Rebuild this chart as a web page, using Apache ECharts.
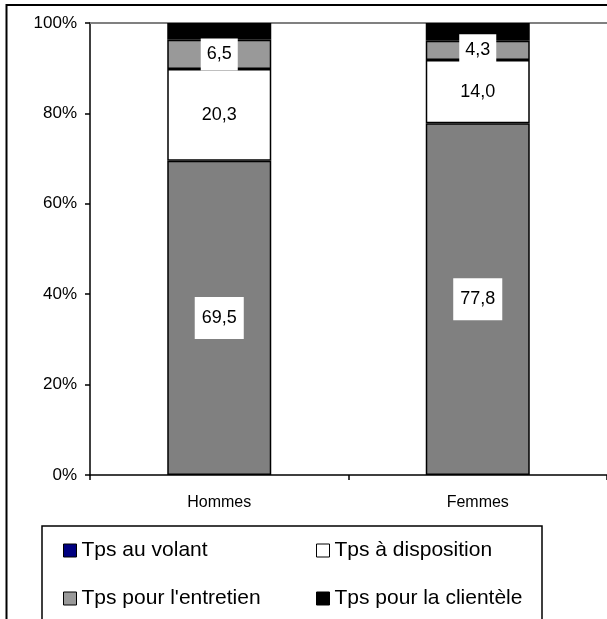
<!DOCTYPE html>
<html>
<head>
<meta charset="utf-8">
<script src="https://cdn.jsdelivr.net/npm/echarts@6/dist/echarts.min.js"></script>
<style>
  html, body { margin: 0; padding: 0; background: #fff; }
  #chart { width: 607px; height: 619px; }
</style>
</head>
<body>
<div id="chart"></div>
<script>
  // categories and values (percent of time)
  const categories = ['Hommes', 'Femmes']
  const volant = [69.5, 77.8]
  const disposition = [20.3, 14.0]
  const entretien = [6.5, 4.3]
  const clientele = [3.7, 3.9]
  const yTicks = [0, 20, 40, 60, 80, 100]

  const font = 'Arial, "Liberation Sans", sans-serif'
  const fmt = p => p.value.toFixed(1).replace('.', ',')

  const chart = echarts.init(document.getElementById('chart'))

  const barLabel = (pad) => ({
    show: true,
    position: 'inside',
    formatter: fmt,
    color: '#000',
    fontSize: 18,
    fontFamily: font,
    backgroundColor: '#fff',
    padding: pad
  })

  const legendBase = {
    orient: 'vertical',
    top: 540,
    padding: 0,
    itemWidth: 13,
    itemHeight: 13,
    itemGap: 27,
    icon: 'rect',
    itemStyle: { borderColor: '#000', borderWidth: 1 },
    textStyle: { fontSize: 21, fontFamily: font, color: '#000' }
  }

  chart.setOption({
    animation: false,
    backgroundColor: '#fff',
    graphic: [
      // outer frame
      {
        type: 'rect',
        shape: { x: 6.5, y: 5, width: 700, height: 700 },
        style: { fill: 'none', stroke: '#000', lineWidth: 2 },
        z: 0
      },
      // legend box
      {
        type: 'rect',
        shape: { x: 42, y: 526, width: 500, height: 200 },
        style: { fill: 'none', stroke: '#000', lineWidth: 1.5 },
        z: 0
      }
    ],
    grid: {
      left: 90,
      top: 23,
      right: -9,
      bottom: 144
    },
    legend: [Object.assign({}, legendBase, {
      left: 63,
      data: [
        { name: 'Tps au volant', itemStyle: { color: '#000080' } },
        "Tps pour l'entretien"
      ]
    }), Object.assign({}, legendBase, {
      left: 316,
      data: ['Tps à disposition', 'Tps pour la clientèle']
    })],
    xAxis: {
      type: 'category',
      data: categories,
      axisLine: { lineStyle: { color: '#000', width: 1.5 } },
      axisTick: { show: true, length: 5, lineStyle: { color: '#000', width: 1.5 } },
      axisLabel: { color: '#000', fontSize: 16, fontFamily: font, margin: 20 }
    },
    yAxis: {
      type: 'value',
      min: yTicks[0],
      max: yTicks[yTicks.length - 1],
      interval: 20,
      axisLine: { show: true, lineStyle: { color: '#000', width: 1.5 } },
      axisTick: { show: true, length: 5, lineStyle: { color: '#000', width: 1.5 } },
      axisLabel: { color: '#000', fontSize: 17, fontFamily: font, margin: 13, formatter: '{value}%' },
      splitLine: { show: false }
    },
    series: [{
      name: 'Tps au volant',
      type: 'bar',
      stack: 'total',
      barWidth: 104,
      data: volant,
      itemStyle: { color: '#808080', borderColor: '#000', borderWidth: 1.5 },
      label: barLabel([12, 7])
    }, {
      name: 'Tps à disposition',
      type: 'bar',
      stack: 'total',
      data: disposition,
      itemStyle: { color: '#fff', borderColor: '#000', borderWidth: 1.5 },
      label: barLabel([8, 6])
    }, {
      name: "Tps pour l'entretien",
      type: 'bar',
      stack: 'total',
      data: entretien,
      itemStyle: { color: '#999999', borderColor: '#000', borderWidth: 1.5 },
      label: barLabel([7, 6])
    }, {
      name: 'Tps pour la clientèle',
      type: 'bar',
      stack: 'total',
      data: clientele,
      itemStyle: { color: '#000', borderColor: '#000', borderWidth: 1.5 },
      label: { show: false },
      markLine: {
        silent: true,
        symbol: 'none',
        label: { show: false },
        lineStyle: { color: '#808080', width: 2, type: 'solid' },
        data: [{ yAxis: 100 }],
        z: 1
      }
    }]
  })
</script>
</body>
</html>
